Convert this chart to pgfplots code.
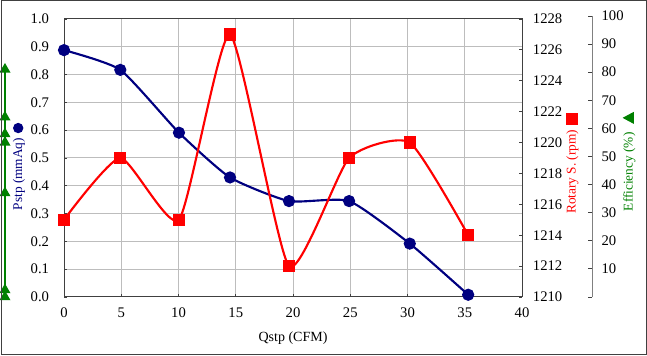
\documentclass[border=0pt]{standalone}
\usepackage{pgfplots}
\pgfplotsset{compat=1.18}
\usepackage{fontspec}
\setmainfont{Liberation Serif}
\definecolor{pblue}{HTML}{000080}
\definecolor{pred}{HTML}{FF0000}
\definecolor{pgreen}{HTML}{008000}
\definecolor{gridc}{HTML}{BDBDBD}
\definecolor{axc}{HTML}{404040}
\definecolor{effax}{HTML}{808080}
\begin{document}
\begin{tikzpicture}[x=0.75pt,y=0.75pt]
\path[use as bounding box] (0,0) rectangle (647,356);
\pgfplotsset{base/.style={scale only axis, width=343.5pt, height=208.5pt,
  xmin=0, xmax=40, font=\fontsize{11}{13}\selectfont,
  /pgf/number format/assume math mode=true,
  /pgf/number format/1000 sep={},
  tick align=inside, major tick length=2.25pt,
  every tick/.style={axc, line width=0.6pt},
  axis line style={axc, line width=0.75pt},
  tick label style={text=black}}}
% main axis: Pstp
\begin{axis}[base, at={(48pt,44.25pt)}, anchor=south west,
  ymin=0, ymax=1,
  xtick={0,5,10,15,20,25,30,35,40},
  ytick={0,0.1,0.2,0.3,0.4,0.5,0.6,0.7,0.8,0.9,1.0},
  xtick pos=left, ytick pos=left,
  yticklabel style={/pgf/number format/.cd, fixed, fixed zerofill, precision=1, /tikz/.cd, anchor=east, inner sep=0pt, xshift=-11pt},
  xticklabel style={anchor=north, inner sep=0pt, yshift=-8pt},
  grid=major, major grid style={gridc, line width=0.75pt}]
\addplot[pblue, line width=1.6pt, smooth, tension=0.33, mark=*, mark size=3.75pt, mark options={solid, fill=pblue}]
  coordinates {(0,0.888)(4.92,0.817)(10.04,0.591)(14.5,0.430)(19.65,0.345)(24.9,0.345)(30.2,0.192)(35.3,0.008)};
\end{axis}
% rotary speed axis
\begin{axis}[base, at={(48pt,44.25pt)}, anchor=south west,
  ymin=1210, ymax=1228, ytick={1210,1212,1214,1216,1218,1220,1222,1224,1226,1228},
  axis x line=none, axis y line*=right,
  yticklabel style={anchor=west, inner sep=0pt, xshift=8pt}]
\addplot[pred, line width=1.6pt, smooth, tension=0.33, mark=square*, mark size=3.75pt, mark options={solid, fill=pred}]
  coordinates {(0,1215)(4.92,1219)(10.04,1215)(14.5,1227)(19.65,1212)(24.9,1219)(30.2,1220)(35.3,1214)};
\end{axis}
% efficiency axis
\begin{axis}[base, at={(100.5pt,44.25pt)}, anchor=south west, height=210.75pt,
  ymin=0, ymax=100, ytick={0,10,20,30,40,50,60,70,80,90,100},
  yticklabels={{},10,20,30,40,50,60,70,80,90,100},
  axis x line=none, axis y line*=right, clip=false,
  axis line style={effax, line width=0.75pt},
  every tick/.style={axc, line width=0.6pt}, major tick length=3pt,
  yticklabel style={anchor=west, inner sep=0pt, xshift=7pt}]
\addplot[pgreen, line width=1pt, mark=triangle*, mark size=3.8pt, mark options={solid, fill=pgreen}]
  coordinates {(-11.27,81)(-11.27,64)(-11.27,58)(-11.27,55)(-11.27,37)(-11.27,2.5)(-11.27,0)};
\end{axis}
% axis titles
\node[rotate=90, text=pblue, font=\fontsize{10}{12}\selectfont, inner sep=0pt] at (19,189.5)
  {Pstp (mmAq)\hspace{3.5pt}\tikz[baseline=-0.3em]\fill[pblue] (0,0) circle (3.9pt);};
\node[rotate=90, text=pred, font=\fontsize{10}{12}\selectfont, inner sep=0pt] at (572,192.5)
  {Rotary S. (rpm)\hspace{3.5pt}\tikz[baseline=-0.3em]\fill[pred] (-4.5pt,-4.5pt) rectangle (4.5pt,4.5pt);};
\node[rotate=90, text=pgreen, font=\fontsize{10}{12}\selectfont, inner sep=0pt] at (629,194.5)
  {Efficiency (\%)\hspace{6.5pt}\tikz[baseline=-0.3em]\fill[pgreen] (-4.5pt,-3.9pt) -- (4.5pt,-3.9pt) -- (0,4.5pt) -- cycle;};
\node[font=\fontsize{10.5}{12}\selectfont, inner sep=0pt] at (293,18) {Qstp (CFM)};
\draw[axc, line width=0.75pt] (1,1) rectangle (646,355);
\end{tikzpicture}
\end{document}
